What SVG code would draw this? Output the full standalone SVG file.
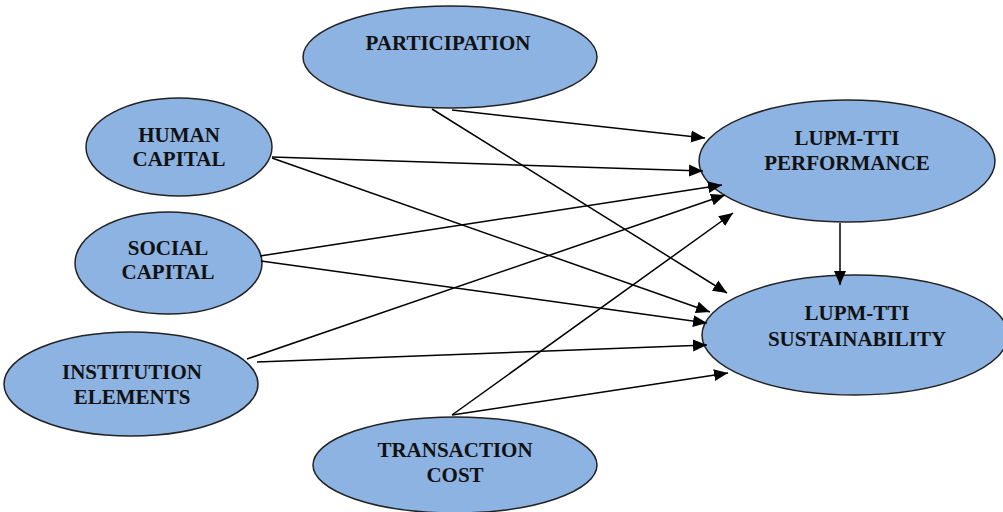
<svg xmlns="http://www.w3.org/2000/svg" width="1003" height="512" viewBox="0 0 1003 512">
<style>
.node{fill:#8DB3E2;stroke:#222;stroke-width:1.5}
.lbl{font-family:"Liberation Serif","Times New Roman",serif;font-weight:bold;font-size:21px;fill:#111;text-anchor:middle}
.edge{stroke:#000;stroke-width:1.5;fill:none;marker-end:url(#arr)}
</style>
<defs>
<marker id="arr" markerUnits="userSpaceOnUse" markerWidth="16" markerHeight="14" refX="14" refY="7" orient="auto">
<path d="M0,1 L14,7 L0,13 Z" fill="#000"/>
</marker>
</defs>
<rect width="1003" height="512" fill="#fff"/>
<g id="participation">
<ellipse class="node" cx="450" cy="57" rx="147" ry="51"/>
<text class="lbl" x="448" y="50">PARTICIPATION</text>
</g>
<g id="human-capital">
<ellipse class="node" cx="179" cy="147" rx="93" ry="49"/>
<text class="lbl" x="179" y="142">HUMAN</text>
<text class="lbl" x="179" y="166">CAPITAL</text>
</g>
<g id="social-capital">
<ellipse class="node" cx="168.5" cy="263" rx="93.5" ry="51"/>
<text class="lbl" x="168" y="255">SOCIAL</text>
<text class="lbl" x="168" y="279">CAPITAL</text>
</g>
<g id="institution-elements">
<ellipse class="node" cx="131" cy="384" rx="127" ry="52"/>
<text class="lbl" x="132" y="379">INSTITUTION</text>
<text class="lbl" x="132" y="404">ELEMENTS</text>
</g>
<g id="transaction-cost">
<ellipse class="node" cx="455" cy="465" rx="142" ry="48"/>
<text class="lbl" x="455" y="457">TRANSACTION</text>
<text class="lbl" x="455" y="482">COST</text>
</g>
<g id="lupm-performance">
<ellipse class="node" cx="847" cy="161" rx="148" ry="61"/>
<text class="lbl" x="847" y="145">LUPM-TTI</text>
<text class="lbl" x="847" y="170">PERFORMANCE</text>
</g>
<g id="lupm-sustainability">
<ellipse class="node" cx="855" cy="335" rx="153" ry="60"/>
<text class="lbl" x="857" y="320">LUPM-TTI</text>
<text class="lbl" x="857" y="346">SUSTAINABILITY</text>
</g>
<g id="connectors">
<line class="edge" x1="452" y1="110" x2="705" y2="138"/>
<line class="edge" x1="432" y1="109" x2="727" y2="293"/>
<line class="edge" x1="272" y1="157" x2="703" y2="171"/>
<line class="edge" x1="272" y1="158" x2="710" y2="312"/>
<line class="edge" x1="260" y1="256" x2="722" y2="185"/>
<line class="edge" x1="261" y1="261" x2="707" y2="323"/>
<line class="edge" x1="247" y1="359" x2="725" y2="195"/>
<line class="edge" x1="257" y1="362" x2="707" y2="345"/>
<line class="edge" x1="452" y1="415" x2="733" y2="213"/>
<line class="edge" x1="452" y1="415" x2="728" y2="373"/>
<line class="edge" x1="840" y1="223" x2="840" y2="285"/>
</g>
</svg>
